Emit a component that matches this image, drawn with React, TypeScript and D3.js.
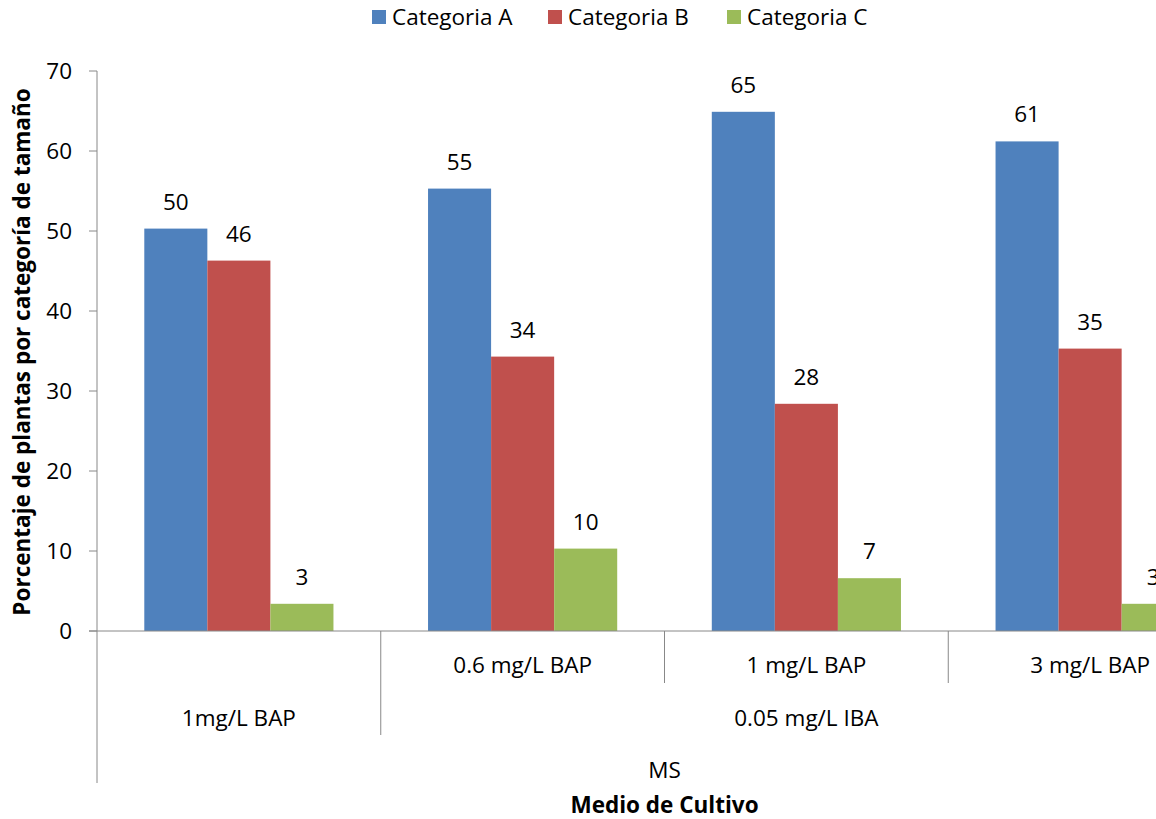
import React, { useEffect, useRef } from "react";
import * as d3 from "d3";

// Tratamientos (nivel 1 del eje de categorías)
const treatments = ["1mg/L BAP", "0.6 mg/L BAP", "1 mg/L BAP", "3 mg/L BAP"];
// Etiqueta de primer nivel (vacía cuando el tratamiento sube al segundo nivel)
const level1Labels = ["", "0.6 mg/L BAP", "1 mg/L BAP", "3 mg/L BAP"];
// Agrupación de segundo nivel: [etiqueta, índice inicial, índice final]
const level2Groups: [string, number, number][] = [
  ["1mg/L BAP", 0, 0],
  ["0.05 mg/L IBA", 1, 3],
];
// Agrupación de tercer nivel
const level3Groups: [string, number, number][] = [["MS", 0, 3]];

const seriesNames = ["Categoria A", "Categoria B", "Categoria C"];
const seriesColors = ["#4F81BD", "#C0504D", "#9BBB59"];

const categoriaA = [50.3, 55.3, 64.9, 61.2];
const categoriaB = [46.3, 34.3, 28.4, 35.3];
const categoriaC = [3.4, 10.3, 6.6, 3.4];
const seriesValues = [categoriaA, categoriaB, categoriaC];

const yTicks = [0, 10, 20, 30, 40, 50, 60, 70];

const W = 1156;
const H = 819;
const FONT = "'Open Sans', Lato, sans-serif";
const FS = 22.5;

export default function App() {
  const ref = useRef<SVGSVGElement | null>(null);

  useEffect(() => {
    const svg = d3.select(ref.current);
    svg.selectAll("*").remove();

    const left = 97;
    const top = 71;
    const bottom = 631;
    const right = 1232;
    const axisColor = "#888888";

    const y = d3.scaleLinear().domain([0, 70]).range([bottom, top]);
    const x0 = d3
      .scaleBand<number>()
      .domain(d3.range(treatments.length))
      .range([left, right])
      .paddingInner(1 / 3)
      .paddingOuter(1 / 6);
    const x1 = d3
      .scaleBand<number>()
      .domain(d3.range(seriesNames.length))
      .range([0, x0.bandwidth()]);
    const step = x0.step();
    const edge = (i: number) => left + i * step;

    // Barras y sus etiquetas de valor
    const g = svg.append("g");
    seriesValues.forEach((vals, s) => {
      vals.forEach((v, i) => {
        const bx = (x0(i) as number) + (x1(s) as number);
        g.append("rect")
          .attr("x", bx)
          .attr("y", y(v))
          .attr("width", x1.bandwidth())
          .attr("height", y(0) - y(v))
          .attr("fill", seriesColors[s]);
        g.append("text")
          .attr("x", bx + x1.bandwidth() / 2)
          .attr("y", y(v) - 19)
          .attr("text-anchor", "middle")
          .attr("font-family", FONT)
          .attr("font-size", FS)
          .attr("fill", "#000")
          .text(d3.format(".0f")(v));
      });
    });

    // Eje Y
    const ay = svg.append("g");
    ay.append("line")
      .attr("x1", left).attr("x2", left)
      .attr("y1", top).attr("y2", 783)
      .attr("stroke", axisColor);
    yTicks.forEach((t) => {
      ay.append("line")
        .attr("x1", left - 8).attr("x2", left)
        .attr("y1", y(t)).attr("y2", y(t))
        .attr("stroke", axisColor);
      ay.append("text")
        .attr("x", left - 25)
        .attr("y", y(t))
        .attr("dy", "0.35em")
        .attr("text-anchor", "end")
        .attr("font-family", FONT)
        .attr("font-size", FS)
        .attr("fill", "#000")
        .text(t);
    });

    // Eje X (categorías multinivel)
    const ax = svg.append("g");
    ax.append("line")
      .attr("x1", left - 8).attr("x2", W)
      .attr("y1", bottom).attr("y2", bottom)
      .attr("stroke", axisColor);

    const lvl1Bottom = 683;
    const lvl2Bottom = 735;
    // Separadores entre tratamientos
    for (let i = 1; i < treatments.length; i++) {
      const isLevel2Edge = level2Groups.some(([, a]) => a === i);
      ax.append("line")
        .attr("x1", edge(i)).attr("x2", edge(i))
        .attr("y1", bottom).attr("y2", isLevel2Edge ? lvl2Bottom : lvl1Bottom)
        .attr("stroke", axisColor);
    }
    const label = (txt: string, cx: number, cy: number, bold = false) =>
      ax.append("text")
        .attr("x", cx)
        .attr("y", cy)
        .attr("dy", "0.35em")
        .attr("text-anchor", "middle")
        .attr("font-family", FONT)
        .attr("font-size", FS)
        .attr("font-weight", bold ? "bold" : "normal")
        .attr("fill", "#000")
        .text(txt);

    level1Labels.forEach((t, i) => {
      if (t) label(t, edge(i) + step / 2, 665);
    });
    level2Groups.forEach(([t, a, b]) => {
      label(t, (edge(a) + edge(b + 1)) / 2, 718);
    });
    level3Groups.forEach(([t, a, b]) => {
      label(t, (edge(a) + edge(b + 1)) / 2, 770);
    });
    label("Medio de Cultivo", (edge(0) + edge(treatments.length)) / 2, 805, true);

    // Título del eje Y
    svg.append("text")
      .attr("transform", `translate(22, ${(top + bottom) / 2 + 1}) rotate(-90)`)
      .attr("dy", "0.35em")
      .attr("text-anchor", "middle")
      .attr("font-family", FONT)
      .attr("font-size", FS)
      .attr("font-weight", "bold")
      .attr("fill", "#000")
      .text("Porcentaje de plantas  por categoría de tamaño");

    // Leyenda
    const legendX = [372, 548, 727];
    seriesNames.forEach((n, s) => {
      svg.append("rect")
        .attr("x", legendX[s]).attr("y", 10)
        .attr("width", 14).attr("height", 14)
        .attr("fill", seriesColors[s]);
      svg.append("text")
        .attr("x", legendX[s] + 20)
        .attr("y", 17)
        .attr("dy", "0.35em")
        .attr("font-family", FONT)
        .attr("font-size", FS)
        .attr("fill", "#000")
        .text(n);
    });
  }, []);

  return (
    <svg
      ref={ref}
      width={W}
      height={H}
      style={{ position: "absolute", left: 0, top: 0, background: "#fff" }}
    />
  );
}
